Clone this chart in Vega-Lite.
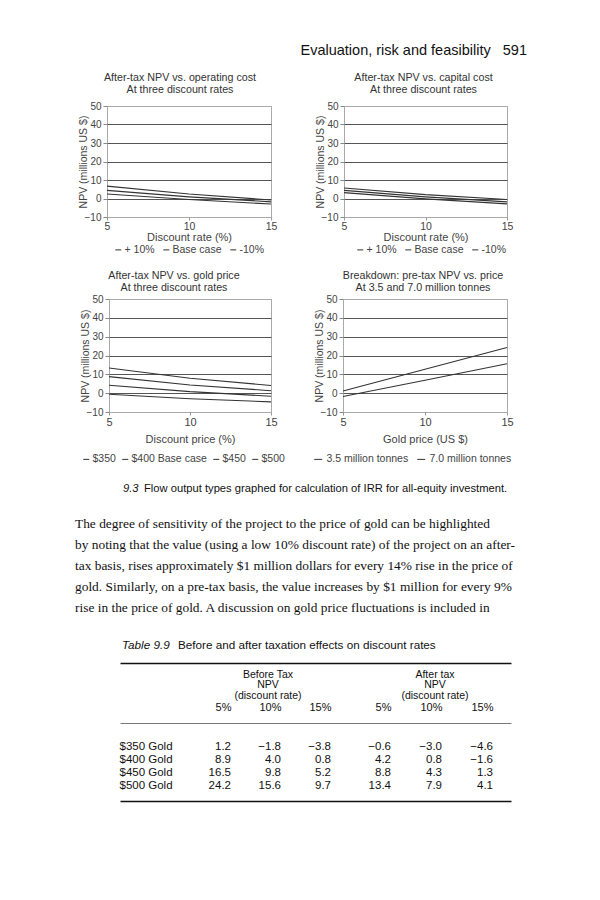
{
  "$schema": "https://vega.github.io/schema/vega-lite/v6.json",
  "background": "white",
  "padding": 0,
  "bounds": "flush",
  "spacing": 0,
  "resolve": {"scale": {"color": "independent"}, "legend": {"color": "independent"}},
  "datasets": {
    "opcost": [
      {"case": "+ 10%", "rate": 5, "npv": 2.4}, {"case": "+ 10%", "rate": 10, "npv": -0.5}, {"case": "+ 10%", "rate": 15, "npv": -3.0},
      {"case": "Base case", "rate": 5, "npv": 4.4}, {"case": "Base case", "rate": 10, "npv": 0.9}, {"case": "Base case", "rate": 15, "npv": -1.8},
      {"case": "-10%", "rate": 5, "npv": 6.7}, {"case": "-10%", "rate": 10, "npv": 2.4}, {"case": "-10%", "rate": 15, "npv": -0.8}
    ],
    "capcost": [
      {"case": "+ 10%", "rate": 5, "npv": 3.2}, {"case": "+ 10%", "rate": 10, "npv": -0.2}, {"case": "+ 10%", "rate": 15, "npv": -2.9},
      {"case": "Base case", "rate": 5, "npv": 4.4}, {"case": "Base case", "rate": 10, "npv": 0.9}, {"case": "Base case", "rate": 15, "npv": -1.8},
      {"case": "-10%", "rate": 5, "npv": 5.7}, {"case": "-10%", "rate": 10, "npv": 2.1}, {"case": "-10%", "rate": 15, "npv": -0.5}
    ],
    "gold": [
      {"case": "$350", "rate": 5, "npv": -0.6}, {"case": "$350", "rate": 10, "npv": -3.0}, {"case": "$350", "rate": 15, "npv": -4.6},
      {"case": "$400 Base case", "rate": 5, "npv": 4.2}, {"case": "$400 Base case", "rate": 10, "npv": 0.8}, {"case": "$400 Base case", "rate": 15, "npv": -1.6},
      {"case": "$450", "rate": 5, "npv": 8.8}, {"case": "$450", "rate": 10, "npv": 4.3}, {"case": "$450", "rate": 15, "npv": 1.3},
      {"case": "$500", "rate": 5, "npv": 13.4}, {"case": "$500", "rate": 10, "npv": 7.9}, {"case": "$500", "rate": 15, "npv": 4.1}
    ],
    "tonnes": [
      {"case": "3.5 million tonnes", "price": 5, "npv": -1.8}, {"case": "3.5 million tonnes", "price": 10, "npv": 6.9}, {"case": "3.5 million tonnes", "price": 15, "npv": 15.6},
      {"case": "7.0 million tonnes", "price": 5, "npv": 1.2}, {"case": "7.0 million tonnes", "price": 10, "npv": 12.7}, {"case": "7.0 million tonnes", "price": 15, "npv": 24.2}
    ],
    "before": [
      {"gold": "$350 Gold", "rate": "5%", "value": 1.2}, {"gold": "$350 Gold", "rate": "10%", "value": -1.8}, {"gold": "$350 Gold", "rate": "15%", "value": -3.8},
      {"gold": "$400 Gold", "rate": "5%", "value": 8.9}, {"gold": "$400 Gold", "rate": "10%", "value": 4.0}, {"gold": "$400 Gold", "rate": "15%", "value": 0.8},
      {"gold": "$450 Gold", "rate": "5%", "value": 16.5}, {"gold": "$450 Gold", "rate": "10%", "value": 9.8}, {"gold": "$450 Gold", "rate": "15%", "value": 5.2},
      {"gold": "$500 Gold", "rate": "5%", "value": 24.2}, {"gold": "$500 Gold", "rate": "10%", "value": 15.6}, {"gold": "$500 Gold", "rate": "15%", "value": 9.7}
    ],
    "after": [
      {"gold": "$350 Gold", "rate": "5%", "value": -0.6}, {"gold": "$350 Gold", "rate": "10%", "value": -3.0}, {"gold": "$350 Gold", "rate": "15%", "value": -4.6},
      {"gold": "$400 Gold", "rate": "5%", "value": 4.2}, {"gold": "$400 Gold", "rate": "10%", "value": 0.8}, {"gold": "$400 Gold", "rate": "15%", "value": -1.6},
      {"gold": "$450 Gold", "rate": "5%", "value": 8.8}, {"gold": "$450 Gold", "rate": "10%", "value": 4.3}, {"gold": "$450 Gold", "rate": "15%", "value": 1.3},
      {"gold": "$500 Gold", "rate": "5%", "value": 13.4}, {"gold": "$500 Gold", "rate": "10%", "value": 7.9}, {"gold": "$500 Gold", "rate": "15%", "value": 4.1}
    ]
  },
  "vconcat": [
    {"width": 600, "height": 58, "data": {"values": [{}]}, "mark": {"type": "text", "text": ""}},
    {"width": 527, "height": 48, "data": {"values": [{}]}, "mark": {"type": "text", "text": ""},
     "title": {"text": "Evaluation, risk and feasibility\u00a0\u00a0\u00a0591", "anchor": "end", "frame": "group", "offset": 0, "fontSize": 14.5, "color": "#111"}},
    {"bounds": "flush", "spacing": 0, "resolve": {"scale": {"color": "independent"}, "legend": {"color": "independent"}}, "hconcat": [
      {"width": 107, "height": 111, "data": {"values": [{}]}, "mark": {"type": "text", "text": ""}},
      {"width": 164, "height": 111, "view": {"stroke": "#aaa"},
       "title": {"text": ["After-tax NPV vs. operating cost", "At three discount rates"], "fontSize": 10.7, "lineHeight": 12.4, "offset": 5, "frame": "group", "anchor": "middle", "dx": -9},
       "data": {"name": "opcost"},
       "mark": {"type": "line", "strokeWidth": 1.1},
       "encoding": {
         "x": {"field": "rate", "type": "quantitative", "scale": {"domain": [5, 15], "nice": false},
               "axis": {"values": [5, 10, 15], "title": "Discount rate (%)", "grid": false, "domain": false, "tickSize": 3, "tickColor": "#999", "labelFlush": false, "labelPadding": 1, "titlePadding": 0, "labelFontSize": 10.5, "titleFontSize": 11}},
         "y": {"field": "npv", "type": "quantitative", "scale": {"domain": [-10, 50], "nice": false, "zero": false},
               "axis": {"values": [-10, 0, 10, 20, 30, 40, 50], "title": "NPV (millions US $)", "grid": true, "gridColor": {"condition": {"test": "datum.value == 50 || datum.value == -10", "value": "#aaa"}, "value": "#555"}, "domain": false, "tickSize": 4, "tickColor": "#888", "labelPadding": 2, "labelFontSize": 10, "titlePadding": -4}},
         "color": {"field": "case", "type": "nominal", "scale": {"domain": ["+ 10%", "Base case", "-10%"], "range": ["#333", "#333", "#333"]},
                   "legend": {"title": null, "orient": "none", "direction": "horizontal", "legendX": 6, "legendY": 138.5, "symbolType": "stroke", "symbolSize": 36, "symbolStrokeWidth": 1, "symbolStrokeColor": "#555", "columnPadding": 6, "labelOffset": 1}}
       }},
      {"width": 73, "height": 111, "data": {"values": [{}]}, "mark": {"type": "text", "text": ""}},
      {"width": 163, "height": 111, "view": {"stroke": "#aaa"},
       "title": {"text": ["After-tax NPV vs. capital cost", "At three discount rates"], "fontSize": 10.7, "lineHeight": 12.4, "offset": 5, "frame": "group", "anchor": "middle", "dx": -2},
       "data": {"name": "capcost"},
       "mark": {"type": "line", "strokeWidth": 1.1},
       "encoding": {
         "x": {"field": "rate", "type": "quantitative", "scale": {"domain": [5, 15], "nice": false},
               "axis": {"values": [5, 10, 15], "title": "Discount rate (%)", "grid": false, "domain": false, "tickSize": 3, "tickColor": "#999", "labelFlush": false, "labelPadding": 1, "titlePadding": 0, "labelFontSize": 10.5, "titleFontSize": 11}},
         "y": {"field": "npv", "type": "quantitative", "scale": {"domain": [-10, 50], "nice": false, "zero": false},
               "axis": {"values": [-10, 0, 10, 20, 30, 40, 50], "title": "NPV (millions US $)", "grid": true, "gridColor": {"condition": {"test": "datum.value == 50 || datum.value == -10", "value": "#aaa"}, "value": "#555"}, "domain": false, "tickSize": 4, "tickColor": "#888", "labelPadding": 2, "labelFontSize": 10, "titlePadding": -4}},
         "color": {"field": "case", "type": "nominal", "scale": {"domain": ["+ 10%", "Base case", "-10%"], "range": ["#333", "#333", "#333"]},
                   "legend": {"title": null, "orient": "none", "direction": "horizontal", "legendX": 11, "legendY": 138.5, "symbolType": "stroke", "symbolSize": 36, "symbolStrokeWidth": 1, "symbolStrokeColor": "#555", "columnPadding": 6, "labelOffset": 1}}
       }}
    ]},
    {"width": 600, "height": 193, "data": {"values": [{}]}, "mark": {"type": "text", "text": ""}},
    {"bounds": "flush", "spacing": 0, "resolve": {"scale": {"color": "independent"}, "legend": {"color": "independent"}}, "hconcat": [
      {"width": 109, "height": 113, "data": {"values": [{}]}, "mark": {"type": "text", "text": ""}},
      {"width": 162, "height": 113, "view": {"stroke": "#aaa"},
       "title": {"text": ["After-tax NPV vs. gold price", "At three discount rates"], "fontSize": 10.7, "lineHeight": 12.4, "offset": 0, "frame": "group", "anchor": "middle", "dx": -16},
       "data": {"name": "gold"},
       "mark": {"type": "line", "strokeWidth": 1.1},
       "encoding": {
         "x": {"field": "rate", "type": "quantitative", "scale": {"domain": [5, 15], "nice": false},
               "axis": {"values": [5, 10, 15], "title": "Discount price (%)", "grid": false, "domain": false, "tickSize": 3, "tickColor": "#999", "labelFlush": false, "labelPadding": 1, "titlePadding": 6, "labelFontSize": 11, "titleFontSize": 11}},
         "y": {"field": "npv", "type": "quantitative", "scale": {"domain": [-10, 50], "nice": false, "zero": false},
               "axis": {"values": [-10, 0, 10, 20, 30, 40, 50], "title": "NPV (millions US $)", "grid": true, "gridColor": {"condition": {"test": "datum.value == 50 || datum.value == -10", "value": "#aaa"}, "value": "#555"}, "domain": false, "tickSize": 4, "tickColor": "#888", "labelPadding": 2, "labelFontSize": 10, "titlePadding": -4}},
         "color": {"field": "case", "type": "nominal", "scale": {"domain": ["$350", "$400 Base case", "$450", "$500"], "range": ["#333", "#333", "#333", "#333"]},
                   "legend": {"title": null, "orient": "none", "direction": "horizontal", "legendX": -28, "legendY": 155, "symbolType": "stroke", "symbolSize": 36, "symbolStrokeWidth": 1, "symbolStrokeColor": "#555", "columnPadding": 4, "labelOffset": 1}}
       }},
      {"width": 72, "height": 113, "data": {"values": [{}]}, "mark": {"type": "text", "text": ""}},
      {"width": 164, "height": 113, "view": {"stroke": "#aaa"},
       "title": {"text": ["Breakdown: pre-tax NPV vs. price", "At 3.5 and 7.0 million tonnes"], "fontSize": 10.7, "lineHeight": 12.4, "offset": 0, "frame": "group", "anchor": "middle", "dx": -2},
       "data": {"name": "tonnes"},
       "mark": {"type": "line", "strokeWidth": 1.1},
       "encoding": {
         "x": {"field": "price", "type": "quantitative", "scale": {"domain": [5, 15], "nice": false},
               "axis": {"values": [5, 10, 15], "title": "Gold price (US $)", "grid": false, "domain": false, "tickSize": 3, "tickColor": "#999", "labelFlush": false, "labelPadding": 1, "titlePadding": 6, "labelFontSize": 11, "titleFontSize": 11}},
         "y": {"field": "npv", "type": "quantitative", "scale": {"domain": [-10, 50], "nice": false, "zero": false},
               "axis": {"values": [-10, 0, 10, 20, 30, 40, 50], "title": "NPV (millions US $)", "grid": true, "gridColor": {"condition": {"test": "datum.value == 50 || datum.value == -10", "value": "#aaa"}, "value": "#555"}, "domain": false, "tickSize": 4, "tickColor": "#888", "labelPadding": 2, "labelFontSize": 10, "titlePadding": -4}},
         "color": {"field": "case", "type": "nominal", "scale": {"domain": ["3.5 million tonnes", "7.0 million tonnes"], "range": ["#333", "#333"]},
                   "legend": {"title": null, "orient": "none", "direction": "horizontal", "legendX": -30, "legendY": 155, "symbolType": "stroke", "symbolSize": 64, "symbolStrokeWidth": 1, "symbolStrokeColor": "#555", "columnPadding": 6, "labelOffset": 3}}
       }}
    ]},
    {"width": 600, "height": 195.4, "data": {"values": [{}]}, "mark": {"type": "text", "text": ""}},
    {"bounds": "flush", "spacing": 0, "hconcat": [
      {"width": 123, "height": 10, "data": {"values": [{}]}, "mark": {"type": "text", "text": ""}},
      {"width": 21, "height": 10, "data": {"values": [{}]}, "mark": {"type": "text", "text": ""},
       "title": {"text": "9.3", "fontStyle": "italic", "anchor": "start", "frame": "group", "offset": 0, "fontSize": 11.2, "color": "#111"}},
      {"width": 366, "height": 10, "data": {"values": [{}]}, "mark": {"type": "text", "text": ""},
       "title": {"text": "Flow output types graphed for calculation of IRR for all-equity investment.", "anchor": "start", "frame": "group", "offset": 0, "fontSize": 11.2, "color": "#111"}}
    ]},
    {"width": 600, "height": 119.3, "data": {"values": [{}]}, "mark": {"type": "text", "text": ""}},
    {"bounds": "flush", "spacing": 0, "hconcat": [
      {"width": 75, "height": 10, "data": {"values": [{}]}, "mark": {"type": "text", "text": ""}},
      {"width": 437, "height": 10, "data": {"values": [{}]}, "mark": {"type": "text", "text": ""},
       "title": {"text": [
         "\u00a0\u00a0\u00a0\u00a0\u00a0\u00a0\u00a0\u00a0\u00a0The degree of sensitivity of the project to the price of gold can be highlighted",
         "by noting that the value (using a low 10% discount rate) of the project on an after-",
         "tax basis, rises approximately $1 million dollars for every 14% rise in the price of",
         "gold. Similarly, on a pre-tax basis, the value increases by $1 million for every 9%",
         "rise in the price of gold. A discussion on gold price fluctuations is included in"
       ], "anchor": "start", "frame": "group", "offset": 0, "fontSize": 13.4, "lineHeight": 21, "font": "Liberation Serif", "color": "#111"}}
    ]},
    {"width": 600, "height": 39.8, "data": {"values": [{}]}, "mark": {"type": "text", "text": ""}},
    {"bounds": "flush", "spacing": 0, "hconcat": [
      {"width": 122, "height": 5, "data": {"values": [{}]}, "mark": {"type": "text", "text": ""}},
      {"width": 56, "height": 5, "data": {"values": [{}]}, "mark": {"type": "text", "text": ""},
       "title": {"text": "Table 9.9", "fontStyle": "italic", "anchor": "start", "frame": "group", "offset": 0, "fontSize": 11.7, "color": "#111"}},
      {"width": 333, "height": 5, "data": {"values": [{}]}, "mark": {"type": "text", "text": ""},
       "title": {"text": "Before and after taxation effects on discount rates", "anchor": "start", "frame": "group", "offset": 0, "fontSize": 11.7, "color": "#111"}}
    ]},
    {"width": 600, "height": 7.5, "data": {"values": [{}]}, "mark": {"type": "text", "text": ""}},
    {"bounds": "flush", "spacing": 0, "hconcat": [
      {"width": 120, "height": 1, "data": {"values": [{}]}, "mark": {"type": "text", "text": ""}},
      {"width": 391, "height": 1, "data": {"values": [{"k": 0}]}, "mark": {"type": "text", "text": ""},
       "encoding": {"x": {"field": "k", "type": "quantitative", "axis": {"orient": "top", "domain": true, "domainColor": "#111", "domainWidth": 1.5, "labels": false, "ticks": false, "grid": false, "title": null}}}}
    ]},
    {"width": 600, "height": 60, "data": {"values": [{}]}, "mark": {"type": "text", "text": ""}},
    {"bounds": "flush", "spacing": 0, "hconcat": [
      {"width": 120, "height": 1, "data": {"values": [{}]}, "mark": {"type": "text", "text": ""}},
      {"width": 391, "height": 1, "data": {"values": [{"k": 0}]}, "mark": {"type": "text", "text": ""},
       "encoding": {"x": {"field": "k", "type": "quantitative", "axis": {"orient": "top", "domain": true, "domainColor": "#777", "domainWidth": 1, "labels": false, "ticks": false, "grid": false, "title": null}}}}
    ]},
    {"width": 600, "height": 17, "data": {"values": [{}]}, "mark": {"type": "text", "text": ""}},
    {"bounds": "flush", "spacing": 0, "hconcat": [
      {"width": 231, "height": 52, "data": {"values": [{}]}, "mark": {"type": "text", "text": ""}},
      {"width": 100, "height": 52, "data": {"name": "before"},
       "title": {"text": ["Before Tax", "NPV", "(discount rate)"], "fontSize": 10.5, "lineHeight": 10.5, "offset": 0, "frame": "group", "anchor": "middle", "dx": -13, "color": "#111"},
       "mark": {"type": "text", "align": "right", "baseline": "middle", "fontSize": 11.5, "color": "#111"},
       "encoding": {
         "x": {"field": "rate", "type": "ordinal", "sort": ["5%", "10%", "15%"], "scale": {"type": "point", "padding": 0},
               "axis": {"orient": "top", "domain": false, "ticks": false, "tickSize": 0, "labelAngle": 0, "labelAlign": "right", "labelBaseline": "alphabetic", "labelPadding": 30, "labelFontSize": 11, "labelColor": "#111", "title": null, "grid": false}},
         "y": {"field": "gold", "type": "ordinal", "sort": ["$350 Gold", "$400 Gold", "$450 Gold", "$500 Gold"], "scale": {"type": "point", "padding": 0.5},
               "axis": {"orient": "left", "domain": false, "ticks": false, "tickSize": 0, "labelAlign": "left", "labelPadding": 112, "labelFontSize": 11.5, "labelColor": "#111", "title": null, "grid": false}},
         "text": {"field": "value", "type": "quantitative", "format": ".1f"}
       }},
      {"width": 60, "height": 52, "data": {"values": [{}]}, "mark": {"type": "text", "text": ""}},
      {"width": 102, "height": 52, "data": {"name": "after"},
       "title": {"text": ["After tax", "NPV", "(discount rate)"], "fontSize": 10.5, "lineHeight": 10.5, "offset": 0, "frame": "group", "anchor": "middle", "dx": -7, "color": "#111"},
       "mark": {"type": "text", "align": "right", "baseline": "middle", "fontSize": 11.5, "color": "#111"},
       "encoding": {
         "x": {"field": "rate", "type": "ordinal", "sort": ["5%", "10%", "15%"], "scale": {"type": "point", "padding": 0},
               "axis": {"orient": "top", "domain": false, "ticks": false, "tickSize": 0, "labelAngle": 0, "labelAlign": "right", "labelBaseline": "alphabetic", "labelPadding": 30, "labelFontSize": 11, "labelColor": "#111", "title": null, "grid": false}},
         "y": {"field": "gold", "type": "ordinal", "sort": ["$350 Gold", "$400 Gold", "$450 Gold", "$500 Gold"], "scale": {"type": "point", "padding": 0.5}, "axis": null},
         "text": {"field": "value", "type": "quantitative", "format": ".1f"}
       }}
    ]},
    {"width": 600, "height": 61, "data": {"values": [{}]}, "mark": {"type": "text", "text": ""}},
    {"bounds": "flush", "spacing": 0, "hconcat": [
      {"width": 120, "height": 1, "data": {"values": [{}]}, "mark": {"type": "text", "text": ""}},
      {"width": 391, "height": 1, "data": {"values": [{"k": 0}]}, "mark": {"type": "text", "text": ""},
       "encoding": {"x": {"field": "k", "type": "quantitative", "axis": {"orient": "top", "domain": true, "domainColor": "#111", "domainWidth": 1.5, "labels": false, "ticks": false, "grid": false, "title": null}}}}
    ]},
    {"width": 600, "height": 40, "data": {"values": [{}]}, "mark": {"type": "text", "text": ""}}
  ],
  "config": {
    "view": {"stroke": null},
    "concat": {"spacing": 0},
    "axis": {"labelFont": "Liberation Sans", "titleFont": "Liberation Sans", "labelColor": "#444", "titleColor": "#444", "titleFontWeight": "normal", "labelFontSize": 10.5, "titleFontSize": 10.5},
    "title": {"font": "Liberation Sans", "fontWeight": "normal", "color": "#333"},
    "legend": {"labelFont": "Liberation Sans", "labelFontSize": 10.5, "labelColor": "#444"},
    "text": {"font": "Liberation Sans"}
  }
}
